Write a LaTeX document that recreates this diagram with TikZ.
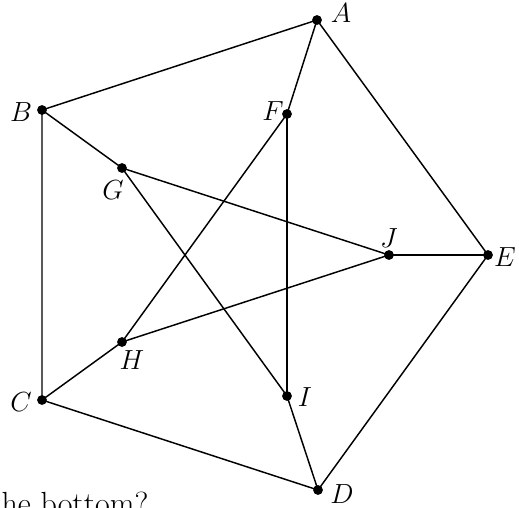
\documentclass[tikz,border=0pt]{standalone}
\begin{document}
\begin{tikzpicture}[x=0.75pt,y=-0.75pt,
  vtx/.style={circle,fill=black,inner sep=0pt,minimum size=7pt},
  lbl/.style={inner sep=0pt,font=\fontsize{20.74}{24}\selectfont},
  edge/.style={line width=1.1pt}]
\useasboundingbox (0,0) rectangle (519,508);
\clip (0,0) rectangle (519,508);
% vertices
\node[vtx] (A) at (317,20) {};
\node[vtx] (B) at (42,110) {};
\node[vtx] (C) at (42,400) {};
\node[vtx] (D) at (318,490) {};
\node[vtx] (E) at (488,255) {};
\node[vtx] (F) at (287,114) {};
\node[vtx] (G) at (122,168) {};
\node[vtx] (H) at (122,342) {};
\node[vtx] (I) at (287,396) {};
\node[vtx] (J) at (389,255) {};
% labels
\node[lbl] (lA) at (341,13) {$A$};
\node[lbl] (lB) at (21,112) {$B$};
\node[lbl] (lC) at (21,402) {$C$};
\node[lbl] (lD) at (342,494) {$D$};
\node[lbl] (lE) at (505,257) {$E$};
\node[lbl] (lF) at (273,111) {$F$};
\node[lbl] (lG) at (113,190) {$G$};
\node[lbl] (lH) at (132,360) {$H$};
\node[lbl] (lI) at (305,397) {$I$};
\node[lbl] (lJ) at (389,238) {$J$};
% edges
\draw[edge] (A.center) -- (B.center) -- (C.center) -- (D.center) -- (E.center) -- (A.center);
\draw[edge] (A.center) -- (F.center);
\draw[edge] (B.center) -- (G.center);
\draw[edge] (C.center) -- (H.center);
\draw[edge] (D.center) -- (I.center);
\draw[edge] (E.center) -- (J.center);
\draw[edge] (F.center) -- (H.center);
\draw[edge] (F.center) -- (I.center);
\draw[edge] (G.center) -- (I.center);
\draw[edge] (G.center) -- (J.center);
\draw[edge] (H.center) -- (J.center);
% dots on top
\foreach \v in {A,B,C,D,E,F,G,H,I,J} \fill (\v) circle (3.6pt);
% cropped caption text
\node[anchor=base west,inner sep=0pt,font=\fontsize{24}{28}\selectfont] (txt) at (-10,514) {the bottom?};
\end{tikzpicture}
\end{document}
